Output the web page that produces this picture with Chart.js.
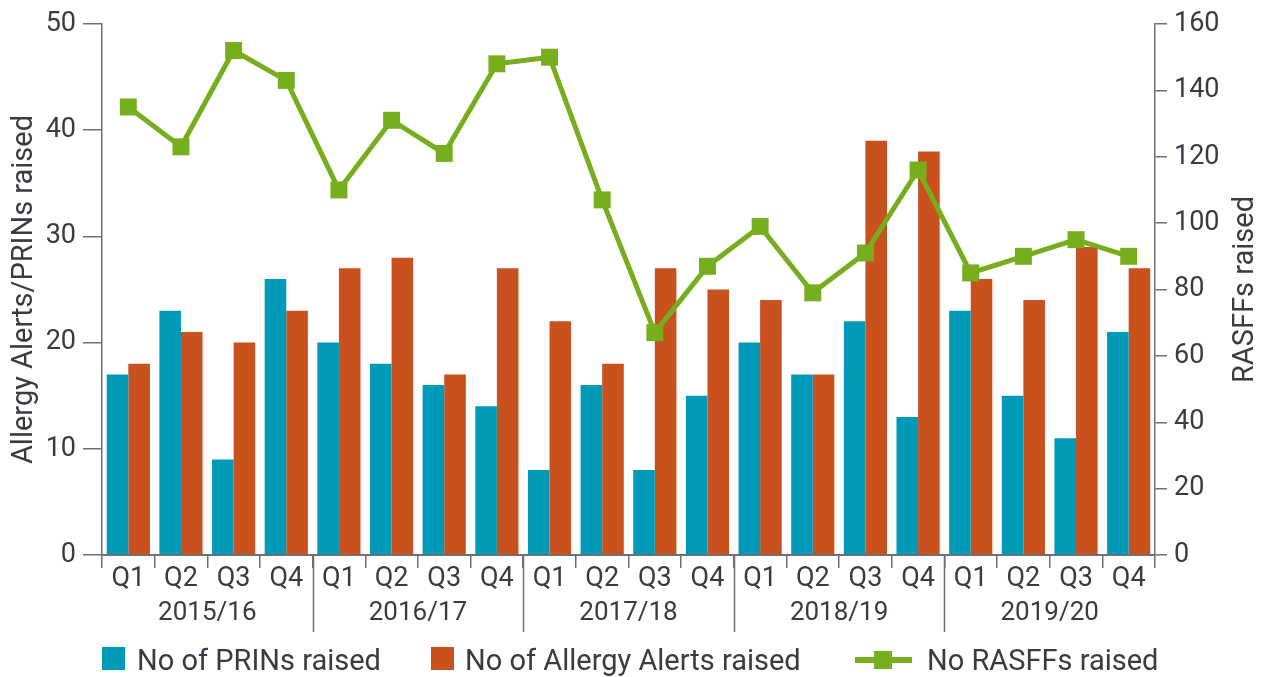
<!DOCTYPE html>
<html>
<head>
<meta charset="utf-8">
<title>Allergy alerts, PRINs and RASFFs</title>
<script src="https://cdn.jsdelivr.net/npm/chart.js@4.4.1/dist/chart.umd.min.js"></script>
<style>
    html, body { margin: 0; padding: 0; background: #ffffff; }
    #wrap { position: relative; width: 1266px; height: 677px; }
</style>
</head>
<body>
<div id="wrap"><canvas id="alerts-chart"></canvas></div>
<script>
// Quarter labels, grouped four to a financial year
const quarters = ['Q1', 'Q2', 'Q3', 'Q4', 'Q1', 'Q2', 'Q3', 'Q4', 'Q1', 'Q2', 'Q3', 'Q4',
                  'Q1', 'Q2', 'Q3', 'Q4', 'Q1', 'Q2', 'Q3', 'Q4'];
const years = ['2015/16', '2016/17', '2017/18', '2018/19', '2019/20'];

const prins = [17, 23, 9, 26, 20, 18, 16, 14, 8, 16, 8, 15, 20, 17, 22, 13, 23, 15, 11, 21];
const allergyAlerts = [18, 21, 20, 23, 27, 28, 17, 27, 22, 18, 27, 25, 24, 17, 39, 38, 26, 24, 29, 27];
const rasffs = [135, 123, 152, 143, 110, 131, 121, 148, 150, 107, 67, 87, 99, 79, 91, 116, 85, 90, 95, 90];

const TEAL = '#009ab9';
const ORANGE = '#c8511e';
const GREEN = '#77ae1d';
const AXIS = '#6f6f75';
const TEXT = '#3a3a44';
const YEAR_FONT = '26px Roboto';
const TITLE_FONT = '29px Roboto';

Chart.defaults.font.family = 'Roboto';
Chart.defaults.font.size = 27;
Chart.defaults.color = TEXT;

/**
 * Draws the financial year row, the rotated axis titles and the legend
 */
const extrasPlugin = {
    id: 'extras',
    afterDraw(chart) {
        const { ctx, chartArea, scales: { x } } = chart;
        ctx.save();

        // year separators below the quarter labels
        ctx.strokeStyle = AXIS;
        ctx.lineWidth = 1.5;
        for (let g = 1; g < years.length; g++) {
            const px = Math.round((x.getPixelForValue(g * 4 - 1) + x.getPixelForValue(g * 4)) / 2) + 0.5;
            ctx.beginPath();
            ctx.moveTo(px, chartArea.bottom);
            ctx.lineTo(px, 632);
            ctx.stroke();
        }

        ctx.font = YEAR_FONT;
        ctx.fillStyle = TEXT;
        ctx.textAlign = 'center';
        ctx.textBaseline = 'alphabetic';
        years.forEach((yr, g) => {
            const cx = (x.getPixelForValue(g * 4) + x.getPixelForValue(g * 4 + 3)) / 2;
            ctx.fillText(yr, cx, 620);
        });

        // axis titles, both reading bottom to top
        ctx.font = TITLE_FONT;
        const midY = (chartArea.top + chartArea.bottom) / 2;
        [['Allergy Alerts/PRINs raised', 32], ['RASFFs raised', 1253]].forEach(([label, bx]) => {
            ctx.save();
            ctx.translate(bx, midY);
            ctx.rotate(-Math.PI / 2);
            ctx.fillText(label, 0, 0);
            ctx.restore();
        });

        // legend
        const ds = chart.data.datasets;
        ctx.textAlign = 'left';
        ctx.fillStyle = TEAL;
        ctx.fillRect(102, 647, 23, 23);
        ctx.fillStyle = ORANGE;
        ctx.fillRect(431, 647, 23, 23);

        ctx.strokeStyle = GREEN;
        ctx.lineWidth = 6;
        ctx.beginPath();
        ctx.moveTo(855, 660);
        ctx.lineTo(912, 660);
        ctx.stroke();
        ctx.fillStyle = GREEN;
        ctx.fillRect(874, 651, 18, 18);

        ctx.fillStyle = TEXT;
        ctx.fillText(ds[0].label, 137, 670);
        ctx.fillText(ds[1].label, 465, 670);
        ctx.fillText(ds[2].label, 927, 670);

        ctx.restore();
    }
};

const ctx = document.getElementById('alerts-chart').getContext('2d');
new Chart(ctx, {
    type: 'bar',
    data: {
        labels: quarters,
        datasets: [
            {
                label: 'No of PRINs raised',
                data: prins,
                backgroundColor: TEAL,
                yAxisID: 'y',
                order: 1,
                categoryPercentage: 0.82,
                barPercentage: 1.0
            },
            {
                label: 'No of Allergy Alerts raised',
                data: allergyAlerts,
                backgroundColor: ORANGE,
                yAxisID: 'y',
                order: 1,
                categoryPercentage: 0.82,
                barPercentage: 1.0
            },
            {
                type: 'line',
                label: 'No RASFFs raised',
                data: rasffs,
                yAxisID: 'y2',
                order: 0,
                borderColor: GREEN,
                backgroundColor: GREEN,
                borderWidth: 5,
                tension: 0,
                pointStyle: 'rect',
                pointRadius: 12,
                pointBorderWidth: 0,
                pointBackgroundColor: GREEN
            }
        ]
    },
    options: {
        responsive: true,
        maintainAspectRatio: false,
        animation: false,
        layout: { padding: { top: 24, left: 0, right: 0, bottom: 0 } },
        plugins: {
            legend: { display: false },
            tooltip: { enabled: false }
        },
        scales: {
            x: {
                offset: true,
                grid: {
                    display: true,
                    offset: true,
                    drawOnChartArea: false,
                    tickLength: 13,
                    color: AXIS,
                    lineWidth: 1.5
                },
                border: { display: true, color: AXIS, width: 2 },
                ticks: { padding: -5, maxRotation: 0, autoSkip: false },
                afterFit: (scale) => { scale.height = 122; }
            },
            y: {
                position: 'left',
                min: 0,
                max: 50,
                ticks: { stepSize: 10, padding: 7 },
                grid: { drawOnChartArea: false, tickLength: 19, color: AXIS, lineWidth: 1.5 },
                border: { display: true, color: AXIS, width: 1.5 },
                afterFit: (scale) => { scale.width = 102; }
            },
            y2: {
                position: 'right',
                min: 0,
                max: 160,
                ticks: { stepSize: 20, padding: 7 },
                grid: { drawOnChartArea: false, tickLength: 12, color: AXIS, lineWidth: 1.5 },
                border: { display: true, color: AXIS, width: 1.5 },
                afterFit: (scale) => { scale.width = 111; }
            }
        }
    },
    plugins: [extrasPlugin]
});
</script>
</body>
</html>
